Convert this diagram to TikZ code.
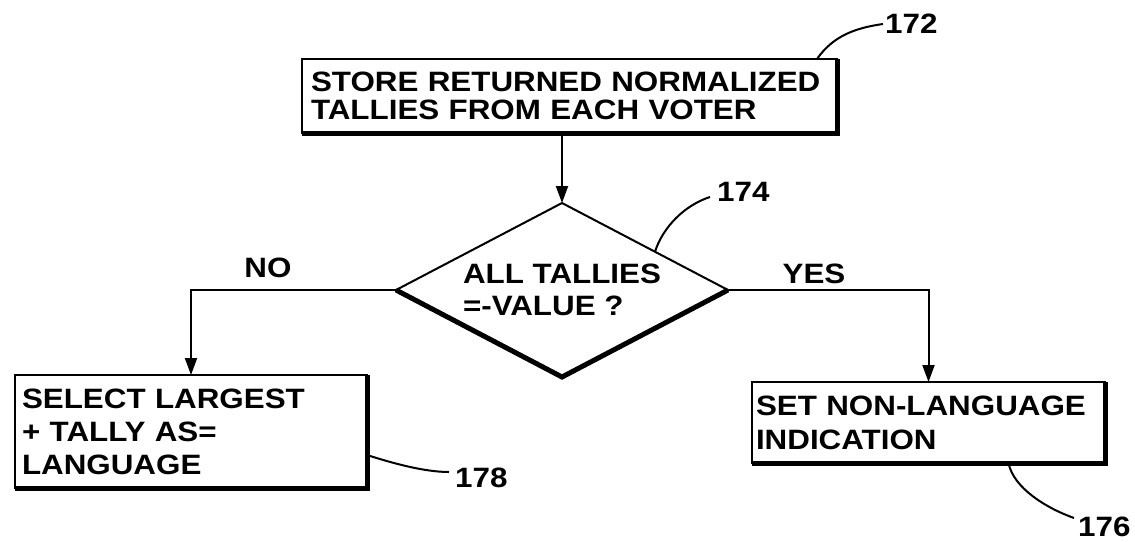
\documentclass[tikz,border=0pt]{standalone}
\usepackage{fontspec}
\newfontfamily\lettering{Liberation Sans}[FakeStretch=1.12]
\usetikzlibrary{shapes.geometric,arrows.meta}
\begin{document}
\begin{tikzpicture}[x=1pt,y=-1pt]
\tikzset{
  lbl/.style={font=\lettering\bfseries\fontsize{28pt}{32pt}\selectfont, inner sep=0pt},
  box/.style={draw, line width=2.5pt, outer sep=0pt, anchor=north west, align=left, inner ysep=0pt},
  heavy/.style={line width=5pt},
  flow/.style={line width=2pt, -{Triangle[length=17pt,width=12pt]}},
  leader/.style={line width=2pt},
}
\fill[white] (0,0) rectangle (1135,541);
\useasboundingbox (0,0) rectangle (1135,541);

% process boxes
\node[box, minimum width=535pt, minimum height=74pt, inner xsep=9pt, text width=517pt,
      font=\lettering\bfseries\fontsize{28pt}{28pt}\selectfont] (store) at (302,59)
      {STORE RETURNED NORMALIZED\\TALLIES FROM EACH VOTER};
\node[box, minimum width=352pt, minimum height=113pt, inner xsep=7pt, text width=338pt,
      font=\lettering\bfseries\fontsize{28pt}{33pt}\selectfont] (select) at (15,375)
      {SELECT LARGEST\\+ TALLY AS=\\LANGUAGE};
\node[box, minimum width=353pt, minimum height=81pt, inner xsep=4pt, text width=345pt,
      font=\lettering\bfseries\fontsize{28pt}{34pt}\selectfont] (nonlang) at (752,382)
      {SET NON-LANGUAGE\\INDICATION};

% decision
\node[draw, diamond, aspect=1.9, minimum width=332pt, minimum height=174pt, inner sep=0pt,
      outer sep=0pt, line width=2pt, align=left,
      font=\lettering\bfseries\fontsize{28pt}{32pt}\selectfont] (test) at (562,290)
      {ALL TALLIES\\=-VALUE ?};

% heavy shadow edges
\draw[heavy] (store.north east) -- (store.south east) -- (store.south west);
\draw[heavy] (select.north east) -- (select.south east) -- (select.south west);
\draw[heavy] (nonlang.north east) -- (nonlang.south east) -- (nonlang.south west);
\draw[heavy] (test.west) -- (test.south) -- (test.east);

% flow lines
\draw[flow] (test.north |- store.south) -- (test.north);
\draw[flow] (test.west) -| (select.north);
\draw[flow] (test.east) -| (nonlang.north);

% labels
\node[lbl] (no) at (268,268) {NO};
\node[lbl] (yes) at (814,274) {YES};
\node[lbl, anchor=west] (n172) at (885,24) {172};
\node[lbl, anchor=west] (n174) at (717,192) {174};
\node[lbl, anchor=west] (n178) at (455,478) {178};
\node[lbl, anchor=west] (n176) at (1078,527) {176};

% leader lines
\draw[leader] ([xshift=-20pt]store.north east) .. controls +(16,-23) and +(-28,4) .. ([xshift=-2pt]n172.west);
\draw[leader] ([xshift=10pt,yshift=-5.2pt]test.north east) .. controls +(8,-25) and +(-25,8) .. ([xshift=-7pt,yshift=-5pt]n174.west);
\draw[leader] ([yshift=-23.5pt]select.east) .. controls +(25,8) and +(-25,0) .. ([xshift=-6pt,yshift=6pt]n178.west);
\draw[leader] ([xshift=80pt]nonlang.south) .. controls +(5,25) and +(-28,-10) .. ([xshift=-4pt,yshift=9pt]n176.west);
\end{tikzpicture}
\end{document}
